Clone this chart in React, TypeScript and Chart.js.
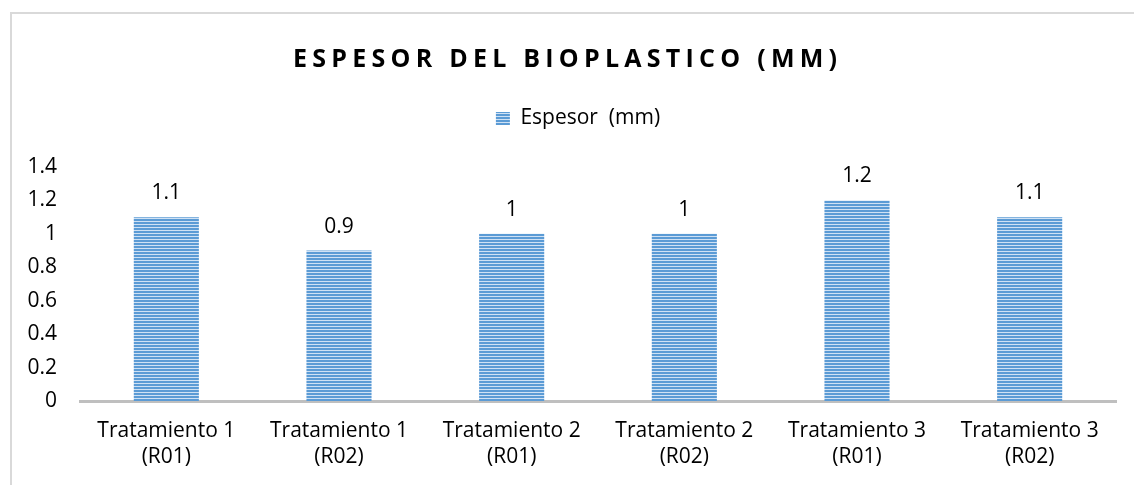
import React, { useEffect, useRef } from "react";
import { Chart, registerables } from "chart.js";

Chart.register(...registerables);

const categories: string[][] = [
  ["Tratamiento 1", "(R01)"],
  ["Tratamiento 1", "(R02)"],
  ["Tratamiento 2", "(R01)"],
  ["Tratamiento 2", "(R02)"],
  ["Tratamiento 3", "(R01)"],
  ["Tratamiento 3", "(R02)"],
];
const espesorValues: number[] = [1.1, 0.9, 1, 1, 1.2, 1.1];
const seriesLabel = "Espesor  (mm)";
const chartTitle = "ESPESOR DEL BIOPLASTICO (MM)";
const yMin = 0;
const yMax = 1.4;
const yStep = 0.2;

const FONT = "'Open Sans', 'Noto Sans', sans-serif";
const TEXT_SIZE = 21;

function makePattern(): CanvasPattern | string {
  const c = document.createElement("canvas");
  c.width = 4;
  c.height = 3;
  const g = c.getContext("2d");
  if (!g) return "#5B9BD5";
  g.fillStyle = "#5B9BD5";
  g.fillRect(0, 0, 4, 2);
  g.fillStyle = "#CFE1F4";
  g.fillRect(0, 2, 4, 1);
  const p = g.createPattern(c, "repeat");
  return p || "#5B9BD5";
}

const titlePlugin = {
  id: "customTitle",
  afterDraw(chart: any) {
    const ctx = chart.ctx as CanvasRenderingContext2D;
    ctx.save();
    ctx.font = `bold 25px ${FONT}`;
    ctx.fillStyle = "#000000";
    ctx.textBaseline = "alphabetic";
    ctx.textAlign = "left";
    const targetWidth = 544;
    (ctx as any).letterSpacing = "0px";
    const w0 = ctx.measureText(chartTitle).width;
    const n = chartTitle.length;
    const sp = Math.max(0, (targetWidth - w0) / (n - 1));
    (ctx as any).letterSpacing = `${sp}px`;
    const total = w0 + sp * (n - 1);
    const x = 565 - total / 2;
    ctx.fillText(chartTitle, x, 67);
    ctx.restore();
  },
};

const legendAdjustPlugin = {
  id: "legendAdjust",
  afterInit(chart: any) {
    const lg = chart.legend;
    if (lg && !lg.__wrapped) {
      const origFit = lg.fit;
      lg.fit = function (this: any) {
        origFit.call(this);
        if (this.options.display) this.height += 28;
      };
      const origDraw = lg.draw;
      lg.draw = function (this: any, ...args: any[]) {
        const ctx = chart.ctx as CanvasRenderingContext2D;
        ctx.save();
        ctx.translate(20, 0);
        origDraw.apply(this, args);
        ctx.restore();
      };
      lg.__wrapped = true;
    }
  },
};

const labelPlugin = {
  id: "barValueLabels",
  afterDatasetsDraw(chart: any) {
    const ctx = chart.ctx as CanvasRenderingContext2D;
    const meta = chart.getDatasetMeta(0);
    const data = chart.data.datasets[0].data as number[];
    ctx.save();
    ctx.font = `${TEXT_SIZE}px ${FONT}`;
    ctx.fillStyle = "#000000";
    ctx.textAlign = "center";
    ctx.textBaseline = "middle";
    meta.data.forEach((bar: any, i: number) => {
      ctx.fillText(String(data[i]), bar.x, bar.y - 24);
    });
    ctx.restore();
  },
};

export default function App() {
  const ref = useRef<HTMLCanvasElement | null>(null);

  useEffect(() => {
    if (!ref.current) return;
    const pattern = makePattern();
    const chart = new Chart(ref.current, {
      type: "bar",
      data: {
        labels: categories,
        datasets: [
          {
            label: seriesLabel,
            data: espesorValues,
            backgroundColor: pattern as any,
            borderWidth: 0,
            barPercentage: 0.377,
            categoryPercentage: 1,
          },
        ],
      },
      options: {
        animation: false,
        responsive: false,
        maintainAspectRatio: false,
        layout: { padding: { top: 98, right: 18, bottom: 0, left: 0 } },
        plugins: {
          title: { display: false },
          tooltip: { enabled: false },
          legend: {
            display: true,
            position: "top",
            labels: {
              boxWidth: 14,
              boxHeight: 13,
              color: "#000000",
              font: { family: FONT, size: TEXT_SIZE },
              padding: 10,
            },
          },
        },
        scales: {
          x: {
            grid: { display: false, drawTicks: false },
            border: { display: true, color: "#BFBFBF", width: 3 },
            ticks: {
              color: "#000000",
              font: { family: FONT, size: TEXT_SIZE, lineHeight: 1.25 },
              padding: 17,
              maxRotation: 0,
              autoSkip: false,
            },
            afterFit(scale: any) {
              scale.height = 84;
            },
          },
          y: {
            min: yMin,
            max: yMax,
            grid: { display: false, drawTicks: false },
            border: { display: false },
            ticks: {
              stepSize: yStep,
              color: "#000000",
              font: { family: FONT, size: TEXT_SIZE },
              padding: 23,
              callback: (v: any) => String(Math.round(Number(v) * 10) / 10),
            },
            afterFit(scale: any) {
              scale.width = 80;
            },
          },
        },
      },
      plugins: [legendAdjustPlugin, titlePlugin, labelPlugin],
    });
    return () => chart.destroy();
  }, []);

  return (
    <div style={{ position: "absolute", left: 0, top: 0, width: 1134, height: 485, background: "#ffffff", overflow: "hidden" }}>
      <div
        style={{
          position: "absolute",
          left: 10,
          top: 12,
          width: 1200,
          height: 600,
          borderLeft: "2px solid #D9D9D9",
          borderTop: "2px solid #D9D9D9",
        }}
      />
      <canvas ref={ref} width={1134} height={485} style={{ position: "absolute", left: 0, top: 0 }} />
    </div>
  );
}
